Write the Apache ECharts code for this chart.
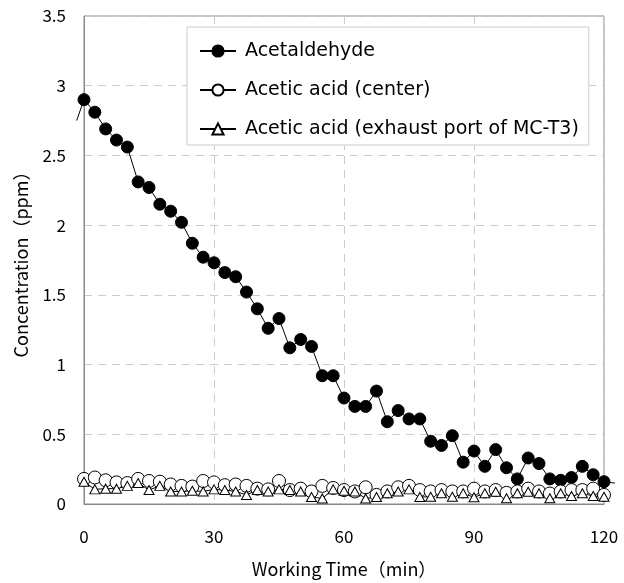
<!doctype html>
<html lang="en">
<head>
    <meta charset="UTF-8">
    <title>Concentration vs working time</title>
    <script type="text/javascript" src="https://cdn.jsdelivr.net/npm/echarts@6/dist/echarts.min.js"></script>
    <style>
        html, body { margin: 0; padding: 0; background: #fff; }
    </style>
</head>
<body>
<div id="main" style="width: 624px; height: 583px;"></div>
<script type="text/javascript">
// sampling times (min)
var times = [0, 2.5, 5, 7.5, 10, 12.5, 15, 17.5, 20, 22.5, 25, 27.5, 30, 32.5, 35, 37.5,
    40, 42.5, 45, 47.5, 50, 52.5, 55, 57.5, 60, 62.5, 65, 67.5, 70, 72.5, 75, 77.5,
    80, 82.5, 85, 87.5, 90, 92.5, 95, 97.5, 100, 102.5, 105, 107.5, 110, 112.5, 115, 117.5, 120];

var acetaldehyde = [2.90, 2.81, 2.69, 2.61, 2.56, 2.31, 2.27, 2.15, 2.10, 2.02, 1.87, 1.77, 1.73, 1.66, 1.63, 1.52,
    1.40, 1.26, 1.33, 1.12, 1.18, 1.13, 0.92, 0.92, 0.76, 0.70, 0.70, 0.81, 0.59, 0.67, 0.61, 0.61,
    0.45, 0.42, 0.49, 0.30, 0.38, 0.27, 0.39, 0.26, 0.18, 0.33, 0.29, 0.18, 0.17, 0.19, 0.27, 0.21, 0.16];

var aceticCenter = [0.18, 0.19, 0.17, 0.155, 0.15, 0.18, 0.165, 0.16, 0.14, 0.13, 0.125, 0.165, 0.155, 0.135, 0.14, 0.13,
    0.11, 0.105, 0.165, 0.10, 0.11, 0.09, 0.13, 0.115, 0.10, 0.09, 0.12, 0.065, 0.09, 0.12, 0.13, 0.10,
    0.09, 0.10, 0.09, 0.09, 0.11, 0.09, 0.10, 0.08, 0.09, 0.11, 0.09, 0.075, 0.09, 0.10, 0.10, 0.11, 0.065];

var aceticExhaust = [0.16, 0.105, 0.11, 0.11, 0.13, 0.15, 0.10, 0.13, 0.09, 0.09, 0.095, 0.09, 0.105, 0.10, 0.09, 0.065,
    0.10, 0.09, 0.105, 0.10, 0.09, 0.05, 0.04, 0.105, 0.095, 0.09, 0.04, 0.05, 0.077, 0.09, 0.105, 0.05,
    0.052, 0.077, 0.052, 0.077, 0.048, 0.077, 0.088, 0.041, 0.077, 0.088, 0.077, 0.041, 0.077, 0.057, 0.077, 0.057, 0.052];

// the acetaldehyde line runs a little past the plot edges at both ends
var acetaldehydeLeadIn = [-1.7, 2.75];
var acetaldehydeTail = [122.5, 0.15];

var xRange = [0, 120, 30];        // min, max, step
var xOuterRange = [-2.5, 122.5];  // hidden axis for the overhanging ends
var yRange = [0, 3.5, 0.5];

var seriesNames = ['Acetaldehyde', 'Acetic acid (center)', 'Acetic acid (exhaust port of MC-T3)'];

function pairs(xs, ys) {
    return xs.map(function (x, i) { return [x, ys[i]]; });
}

var jpFont = '"Noto Sans CJK JP", "Noto Sans", sans-serif';
var legendFont = '"DejaVu Sans", sans-serif';

// plot box in pixels; the outer grid is the same box widened by 2.5 min each side
var plotLeft = 84, plotRight = 20, plotTop = 16, plotBottom = 79;
var pxPerMin = (624 - plotLeft - plotRight) / (xRange[1] - xRange[0]);
var pad = (xRange[0] - xOuterRange[0]) * pxPerMin;

var endData = [
    acetaldehydeLeadIn, [times[0], acetaldehyde[0]], null,
    [times[times.length - 1], acetaldehyde[acetaldehyde.length - 1]], acetaldehydeTail
];

var myChart = echarts.init(document.getElementById('main'));

var option = {
    backgroundColor: '#fff',
    animation: false,
    textStyle: { fontFamily: jpFont, color: '#000' },
    grid: [
        {
            left: plotLeft, right: plotRight, top: plotTop, bottom: plotBottom,
            show: true, borderColor: '#888', borderWidth: 1
        },
        {
            left: plotLeft - pad, right: plotRight - pad, top: plotTop, bottom: plotBottom
        }
    ],
    legend: {
        data: seriesNames,
        orient: 'vertical',
        left: 187, top: 27,
        padding: [14, 10, 6, 12],
        itemWidth: 36, itemHeight: 14, itemGap: 19,
        backgroundColor: '#fff',
        borderColor: '#ccc', borderWidth: 1,
        textStyle: { fontFamily: legendFont, fontSize: 19, lineHeight: 20, color: '#000', padding: [0, 0, 0, 4] }
    },
    xAxis: [
        {
            type: 'value',
            min: xRange[0], max: xRange[1], interval: xRange[2],
            name: 'Working Time（min）',
            nameLocation: 'middle', nameGap: 56,
            nameTextStyle: { fontFamily: jpFont, fontSize: 18, color: '#000' },
            axisLine: { show: true, lineStyle: { color: '#888' } },
            axisTick: { show: false },
            axisLabel: { fontFamily: jpFont, fontSize: 17, color: '#000', margin: 24 },
            splitLine: { show: true, lineStyle: { color: '#ccc', type: [8, 6] } }
        },
        {
            type: 'value', gridIndex: 1, show: false,
            min: xOuterRange[0], max: xOuterRange[1]
        }
    ],
    yAxis: [
        {
            type: 'value',
            min: yRange[0], max: yRange[1], interval: yRange[2],
            name: 'Concentration（ppm）',
            nameLocation: 'middle', nameGap: 54,
            nameTextStyle: { fontFamily: jpFont, fontSize: 18, color: '#000' },
            axisLine: { show: true, lineStyle: { color: '#888' } },
            axisTick: { show: false },
            axisLabel: { fontFamily: jpFont, fontSize: 17, color: '#000', margin: 18 },
            splitLine: { show: true, lineStyle: { color: '#ccc', type: [8, 6] } }
        },
        {
            type: 'value', gridIndex: 1, show: false,
            min: yRange[0], max: yRange[1]
        }
    ],
    series: [
        {
            name: seriesNames[0],
            type: 'line',
            data: pairs(times, acetaldehyde),
            symbol: 'circle', symbolSize: 12,
            itemStyle: { color: '#000', borderColor: '#000', borderWidth: 1 },
            lineStyle: { color: '#000', width: 1 },
            z: 3
        },
        {
            name: seriesNames[1],
            type: 'line',
            data: pairs(times, aceticCenter),
            symbol: 'circle', symbolSize: 13,
            itemStyle: { color: '#fff', borderColor: '#000', borderWidth: 1 },
            lineStyle: { color: '#000', width: 1 },
            z: 3
        },
        {
            name: seriesNames[2],
            type: 'line',
            data: pairs(times, aceticExhaust),
            symbol: 'triangle', symbolSize: [10, 9],
            itemStyle: { color: '#fff', borderColor: '#000', borderWidth: 1 },
            lineStyle: { color: '#000', width: 1 },
            z: 3
        },
        {
            name: 'ends',
            type: 'line',
            xAxisIndex: 1, yAxisIndex: 1,
            data: endData,
            showSymbol: false, symbol: 'none',
            connectNulls: false,
            silent: true,
            lineStyle: { color: '#000', width: 1 },
            z: 2
        }
    ]
};

myChart.setOption(option);
</script>
</body>
</html>
